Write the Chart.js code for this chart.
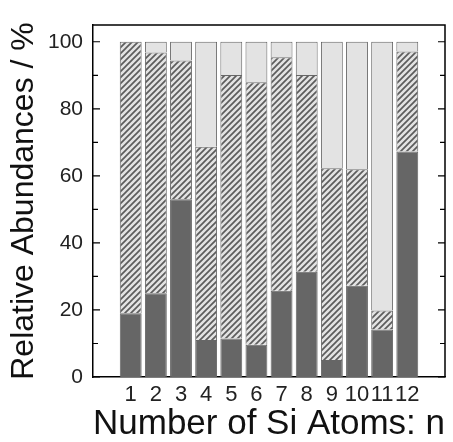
<!DOCTYPE html>
<html>
<head>
<meta charset="utf-8">
<script src="https://cdn.jsdelivr.net/npm/chart.js@4/dist/chart.umd.min.js"></script>
<style>
  html, body { margin: 0; padding: 0; background: #fff; }
  #wrap { width: 453px; height: 442px; }
</style>
</head>
<body>
<div id="wrap"><canvas id="myChart"></canvas></div>
<script>
  // data
  const atoms = [1, 2, 3, 4, 5, 6, 7, 8, 9, 10, 11, 12]
  const darkPart = [19, 25, 53, 11, 11.5, 9.6, 25.7, 31.4, 5.1, 27.2, 14.2, 67.3]
  const hatchedPart = [81, 71.8, 41.4, 57.7, 78.6, 78.3, 69.7, 58.7, 57.2, 34.8, 5.6, 29.8]
  const lightPart = [0, 3.2, 5.6, 31.3, 9.9, 12.1, 4.6, 9.9, 37.7, 38, 80.2, 2.9]
  const yTicks = [0, 20, 40, 60, 80, 100]
  const yMinorTicks = [10, 30, 50, 70, 90]

  const font = 'Liberation Sans, Arial, Helvetica, sans-serif'

  // diagonal hatch fill
  function hatch () {
    const c = document.createElement('canvas')
    c.width = 6
    c.height = 6
    const g = c.getContext('2d')
    g.fillStyle = '#e3e3e3'
    g.fillRect(0, 0, 6, 6)
    g.strokeStyle = '#5c5c5c'
    g.lineWidth = 1.7
    g.beginPath()
    g.moveTo(0, 6); g.lineTo(6, 0)
    g.moveTo(-1, 1); g.lineTo(1, -1)
    g.moveTo(5, 7); g.lineTo(7, 5)
    g.stroke()
    return g.createPattern(c, 'repeat')
  }

  // top/right frame and inward ticks on both sides
  const frame = {
    id: 'frame',
    afterDraw (chart) {
      const { ctx, chartArea: a } = chart
      const y = chart.scales.y
      ctx.save()
      ctx.strokeStyle = '#000'
      ctx.lineWidth = 1.5
      ctx.beginPath()
      ctx.moveTo(a.left, a.top); ctx.lineTo(a.right, a.top); ctx.lineTo(a.right, a.bottom)
      ctx.stroke()
      ctx.lineWidth = 1.2
      ctx.beginPath()
      const mark = (v, len) => {
        const p = y.getPixelForValue(v)
        ctx.moveTo(a.left, p); ctx.lineTo(a.left + len, p)
        ctx.moveTo(a.right, p); ctx.lineTo(a.right - len, p)
      }
      yTicks.forEach(v => mark(v, 7))
      yMinorTicks.forEach(v => mark(v, 5))
      ctx.stroke()
      ctx.restore()
    }
  }

  const border = '#666'
  const ctx = document.getElementById('myChart')

  // eslint-disable-next-line no-unused-vars
  const myChart = new Chart(ctx, {
    type: 'bar',
    data: {
      datasets: [{
        data: atoms.map((n, i) => ({ x: n, y: darkPart[i] })),
        backgroundColor: '#666666',
        borderColor: border,
        borderWidth: 1
      }, {
        data: atoms.map((n, i) => ({ x: n, y: hatchedPart[i] })),
        backgroundColor: hatch(),
        borderColor: border,
        borderWidth: 1
      }, {
        data: atoms.map((n, i) => ({ x: n, y: lightPart[i] })),
        backgroundColor: '#e3e3e3',
        borderColor: border,
        borderWidth: 1
      }]
    },
    options: {
      responsive: true,
      maintainAspectRatio: false,
      animation: false,
      categoryPercentage: 1,
      barPercentage: 0.87,
      layout: { padding: { top: 25, right: 8, left: 0, bottom: 0 } },
      scales: {
        x: {
          type: 'linear',
          stacked: true,
          offset: false,
          min: -0.5,
          max: 13.5,
          afterBuildTicks: s => { s.ticks = atoms.map(v => ({ value: v })) },
          afterFit: s => { s.height = 65 },
          grid: { display: false, drawTicks: false, tickLength: 0 },
          border: { color: '#000', width: 1.5 },
          ticks: {
            color: '#222',
            padding: 5,
            maxRotation: 0,
            autoSkip: false,
            font: { family: font, size: 22 }
          },
          title: {
            display: true,
            text: 'Number of Si Atoms: n',
            color: '#111',
            padding: 0,
            font: { family: font, size: 35, lineHeight: 1 }
          }
        },
        y: {
          stacked: true,
          min: 0,
          max: 105,
          afterBuildTicks: s => { s.ticks = yTicks.map(v => ({ value: v })) },
          afterFit: s => { s.width = 93 },
          grid: { display: false, drawTicks: false, tickLength: 0 },
          border: { color: '#000', width: 1.5 },
          ticks: {
            color: '#222',
            padding: 10,
            font: { family: font, size: 21 }
          },
          title: {
            display: true,
            text: 'Relative Abundances / %',
            color: '#111',
            padding: { top: 8, bottom: 0 },
            font: { family: font, size: 32, lineHeight: 1 }
          }
        }
      },
      plugins: {
        legend: { display: false },
        tooltip: { enabled: false }
      }
    },
    plugins: [frame]
  })
</script>
</body>
</html>
